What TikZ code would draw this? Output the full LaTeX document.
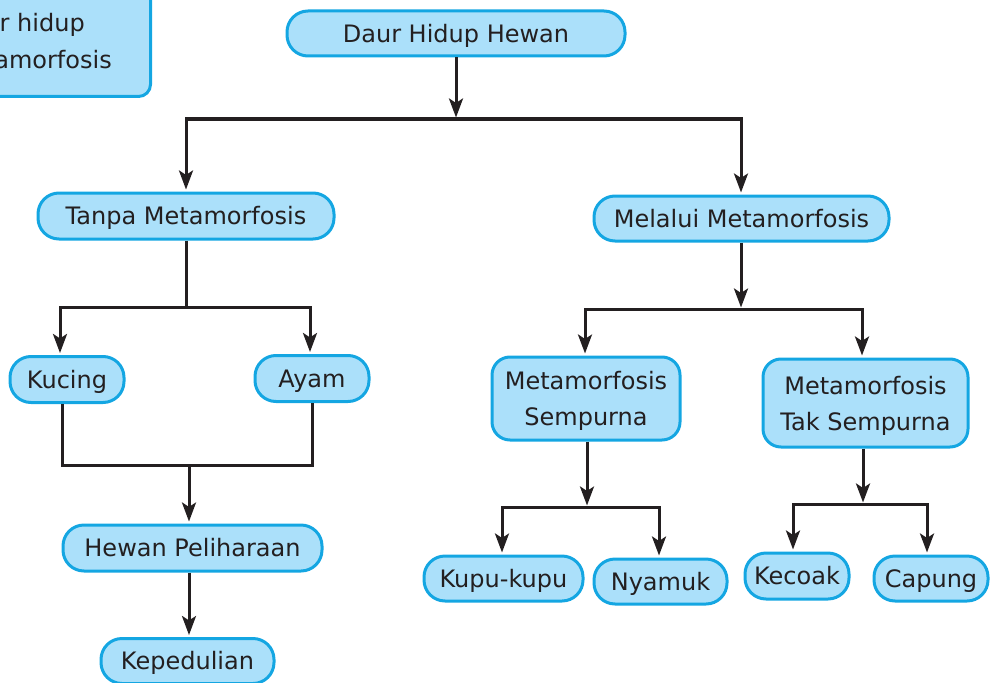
\documentclass[tikz,border=0pt]{standalone}
\usepackage{fontspec}
\setmainfont{DejaVu Sans}
\usetikzlibrary{arrows.meta}
\definecolor{boxfill}{RGB}{171,224,250}
\definecolor{boxedge}{RGB}{20,166,226}
\definecolor{ink}{RGB}{35,31,32}
\tikzset{
  labelfont/.style={font=\fontsize{24}{36}\selectfont, text=ink},
  box/.style={draw=boxedge, fill=boxfill, line width=3pt, rounded corners=21pt,
    inner sep=0pt, labelfont, text height=17.5pt, text depth=0pt},
  tallbox/.style={box, rounded corners=18pt, align=center, text height=, text depth=},
  frag/.style={inner sep=0pt, labelfont, text height=17.5pt, text depth=0pt},
  conn/.style={draw=ink, line width=3pt},
  arr/.style={conn, -{Stealth[length=19pt,width=14pt,inset=4.5pt]}},
  tonode/.style={arr, shorten >=2pt},
  tojoin/.style={arr, shorten >=1.5pt}
}
\newcommand{\firstline}{\rule{0pt}{23pt}}
\begin{document}
\begin{tikzpicture}[x=1pt,y=-1pt]
\useasboundingbox (0,0) rectangle (992,682);

% note box in the upper left corner, running off the page
\begin{scope}
  \clip (0,0) rectangle (992,682);
  \node[box, rounded corners=12pt, minimum width=220pt, minimum height=128pt,
        anchor=south east] (info) at (152,98) {};
  \node[frag, anchor=east] (infoA) at (85,22.5) {r hidup};
  \node[frag, anchor=east] (infoB) at (112,59.5) {amorfosis};
\end{scope}

% nodes
\node[box, minimum width=338pt, minimum height=45pt] (daur) at (456,33.5) {Daur Hidup Hewan};
\node[box, minimum width=296pt, minimum height=46pt] (tanpa) at (186,216) {Tanpa Metamorfosis};
\node[box, minimum width=295pt, minimum height=45pt] (melalui) at (741.5,218.5) {Melalui Metamorfosis};
\node[box, minimum width=114pt, minimum height=46pt] (kucing) at (67,379.5) {Kucing};
\node[box, minimum width=114pt, minimum height=46pt] (ayam) at (312,378.5) {Ayam};
\node[box, minimum width=259pt, minimum height=46pt] (hewan) at (192.5,548) {Hewan Peliharaan};
\node[box, minimum width=173pt, minimum height=45pt] (kep) at (187.5,661) {Kepedulian};
\node[tallbox, minimum width=188pt, minimum height=83pt] (sempurna) at (586,398.5) {\firstline Metamorfosis\\Sempurna};
\node[tallbox, minimum width=205pt, minimum height=88pt] (taksem) at (865.5,403) {\firstline Metamorfosis\\Tak Sempurna};
\node[box, minimum width=159pt, minimum height=45pt] (kupu) at (503.5,578.5) {Kupu-kupu};
\node[box, minimum width=133pt, minimum height=45pt] (nyamuk) at (660.5,581.5) {Nyamuk};
\node[box, minimum width=104pt, minimum height=46pt] (kecoak) at (797,576) {Kecoak};
\node[box, minimum width=114pt, minimum height=45pt] (capung) at (931,578.5) {Capung};

% branch points
\coordinate (j1) at (456,119);
\coordinate (j2) at (186,307);
\coordinate (j3) at (189,465);
\coordinate (j4) at (741,309);
\coordinate (j5) at (587,507);
\coordinate (j6) at (863,504);

% connectors
\draw[tojoin] (daur.south -| j1) -- (j1);
\draw[tonode] (j1) -| (tanpa.north);
\draw[tonode] (j1) -| (melalui.north -| j4);

\draw[conn] (tanpa.south -| j2) -- (j2);
\draw[tonode] (j2) -| ([xshift=-7pt]kucing.north);
\draw[tonode] (j2) -| ([xshift=-2pt]ayam.north);

\draw[conn] ([xshift=-5pt]kucing.south) |- (j3) -| (ayam.south);
\draw[tonode] (j3) -- (j3 |- hewan.north);
\draw[tonode] (hewan.south -| j3) -- (kep.north -| j3);

\draw[tojoin] (melalui.south -| j4) -- (j4);
\draw[tonode] (j4) -| ([xshift=-1pt]sempurna.north);
\draw[tonode] (j4) -| ([xshift=-3.5pt]taksem.north);

\draw[tojoin] (sempurna.south -| j5) -- (j5);
\draw[tonode] (j5) -| ([xshift=-1.5pt]kupu.north);
\draw[tonode] (j5) -| ([xshift=-1.5pt]nyamuk.north);

\draw[tojoin] (taksem.south -| j6) -- (j6);
\draw[tonode] (j6) -| ([xshift=-4pt]kecoak.north);
\draw[tonode] (j6) -| ([xshift=-4pt]capung.north);
\end{tikzpicture}
\end{document}
